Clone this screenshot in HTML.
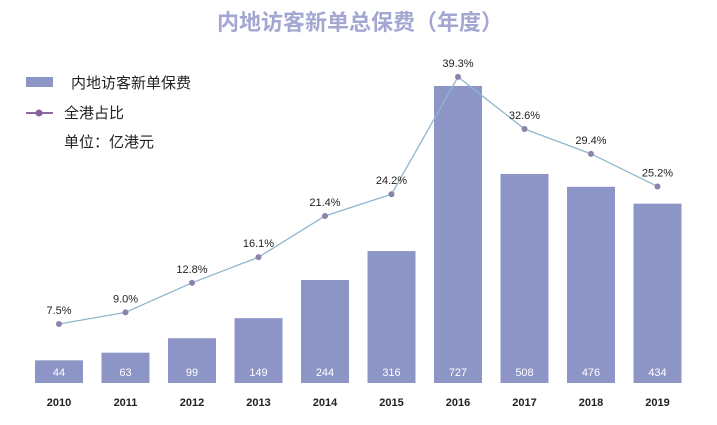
<!DOCTYPE html>
<html><head><meta charset="utf-8"><style>
body{margin:0;background:#fff;}
svg{display:block;font-family:"Liberation Sans","Noto Sans CJK SC",sans-serif;}
</style></head><body>
<svg id="chart" width="717" height="425" viewBox="0 0 717 425">
<text x="360" y="30" text-anchor="middle" font-size="22" font-weight="bold" fill="#a3a7d2">内地访客新单总保费（年度）</text>
<g>
<rect x="26" y="77" width="27" height="10" fill="#8c95c6"/>
<text x="71" y="88" font-size="15" fill="#222">内地访客新单保费</text>
<line x1="26" y1="113" x2="53" y2="113" stroke="#8a6aa6" stroke-width="2"/>
<circle cx="39" cy="113" r="3.5" fill="#8a5fa0"/>
<text x="64" y="118" font-size="15" fill="#222">全港占比</text>
<text x="64" y="147" font-size="15" fill="#222">单位：亿港元</text>
</g>
<g id="bars"></g><g id="line"></g><g id="xaxis"></g>
</svg>
<script>
const years=["2010","2011","2012","2013","2014","2015","2016","2017","2018","2019"];
const premiums=[44,63,99,149,244,316,727,508,476,434];
const shares=[7.5,9.0,12.8,16.1,21.4,24.2,39.3,32.6,29.4,25.2];
const NS="http://www.w3.org/2000/svg";
const base=383;
function xPos(i){return 59+i*66.5;}
function barH(v){return 5+v*0.4017;}
function yShare(p){return 324-(p-7.5)*7.77;}
function mk(t,a,parent){const e=document.createElementNS(NS,t);for(const k in a)e.setAttribute(k,a[k]);parent.appendChild(e);return e;}
const bars=document.getElementById('bars'),line=document.getElementById('line'),xa=document.getElementById('xaxis');
premiums.forEach((v,i)=>{
 const h=barH(v);
 const r=mk('rect',{x:xPos(i)-24,y:base-h,width:48,height:h,fill:'#8c95c6'},bars);
 
 
 const t=mk('text',{x:xPos(i),y:base-7,'text-anchor':'middle','font-size':'11',fill:'#fff'},bars);
 t.textContent=v;
 
 
 const yl=mk('text',{x:xPos(i),y:406,'text-anchor':'middle','font-size':'11',fill:'#222','font-weight':'bold'},xa);
 yl.textContent=years[i];
 
 
});
const pl=mk('polyline',{points:shares.map((p,i)=>xPos(i)+','+yShare(p)).join(' '),fill:'none',stroke:'#8fb6cc','stroke-width':'1.3'},line);


shares.forEach((p,i)=>{
 const c=mk('circle',{cx:xPos(i),cy:yShare(p),r:3,fill:'#8a84aa'},line);
 
 
 const t=mk('text',{x:xPos(i),y:yShare(p)-10,'text-anchor':'middle','font-size':'11',fill:'#222'},line);
 t.textContent=p.toFixed(1)+'%';
 
 
});
</script>
</body></html>
